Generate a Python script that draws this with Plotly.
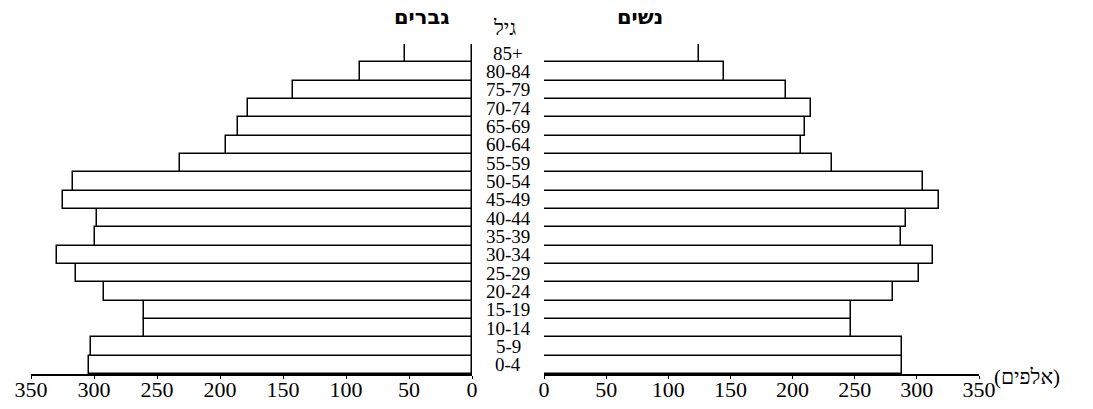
import plotly.graph_objects as go

ages = ["0-4", "5-9", "10-14", "15-19", "20-24", "25-29", "30-34", "35-39", "40-44",
        "45-49", "50-54", "55-59", "60-64", "65-69", "70-74", "75-79", "80-84", "85+"]
men = [304, 302, 260, 260, 292, 314, 329, 299, 298, 325, 317, 232, 195, 186, 178, 142, 89, 53]
women = [288, 288, 247, 247, 281, 302, 313, 287, 291, 318, 305, 232, 207, 210, 215, 195, 145, 125]
ticks = [0, 50, 100, 150, 200, 250, 300, 350]

# page body has an 8px margin; figure sized to fit the window
OFF = 8
W, H = 1093 - 2 * OFF, 409 - 2 * OFF


def px(x):
    return (x - OFF) / W


def py(y):
    return 1 - (y - OFF) / H


serif = "Liberation Serif, Times New Roman, serif"
LRM = "\u200e"

fig = go.Figure()
bar_style = dict(orientation="h", marker=dict(color="white", line=dict(color="black", width=1.5)),
                 width=1.0, showlegend=False, hoverinfo="x+y")
fig.add_trace(go.Bar(x=men, y=ages, xaxis="x", yaxis="y", **bar_style))
fig.add_trace(go.Bar(x=women, y=ages, xaxis="x2", yaxis="y2", **bar_style))

ydom = [py(374), py(44)]
axis_common = dict(showgrid=False, zeroline=False, showline=True, linecolor="black", linewidth=1.5,
                   ticks="outside", ticklen=3, tickcolor="black", tickvals=ticks,
                   ticklabelstandoff=-8,
                   tickfont=dict(family=serif, size=22, color="black"), automargin=False)
yaxis_common = dict(type="category", categoryorder="array", categoryarray=ages,
                    range=[-0.5, 17.5], domain=ydom, showticklabels=False, showgrid=False,
                    zeroline=False, showline=False, ticks="", automargin=False)

annotations = []
for a in ages:
    annotations.append(dict(x=px(508), y=a, xref="paper", yref="y", text=LRM + a + LRM,
                            showarrow=False, font=dict(family=serif, size=19, color="black"),
                            xanchor="center", yanchor="middle"))
hfont = dict(family="DejaVu Sans, Liberation Sans, sans-serif", size=21, color="black")
annotations += [
    dict(x=px(422), y=py(17), xref="paper", yref="paper", text="<b>גברים</b>", showarrow=False,
         font=hfont, xanchor="center", yanchor="middle"),
    dict(x=px(640), y=py(17), xref="paper", yref="paper", text="<b>נשים</b>", showarrow=False,
         font=hfont, xanchor="center", yanchor="middle"),
    dict(x=px(504), y=py(28), xref="paper", yref="paper", text="גיל", showarrow=False,
         font=dict(family=serif, size=21, color="black"), xanchor="center", yanchor="middle"),
    dict(x=px(1027), y=py(377), xref="paper", yref="paper", text="(אלפים)", showarrow=False,
         font=dict(family=serif, size=21, color="black"), xanchor="center", yanchor="middle"),
]

fig.update_layout(
    width=W, height=H, margin=dict(l=0, r=0, t=0, b=0),
    paper_bgcolor="white", plot_bgcolor="white", bargap=0,
    xaxis=dict(domain=[px(31), px(472)], range=[350, 0], anchor="y", **axis_common),
    xaxis2=dict(domain=[px(544), px(979)], range=[0, 350], anchor="y2", **axis_common),
    yaxis=dict(anchor="x", **yaxis_common),
    yaxis2=dict(anchor="x2", **yaxis_common),
    annotations=annotations,
)

fig.write_html("out.html")
